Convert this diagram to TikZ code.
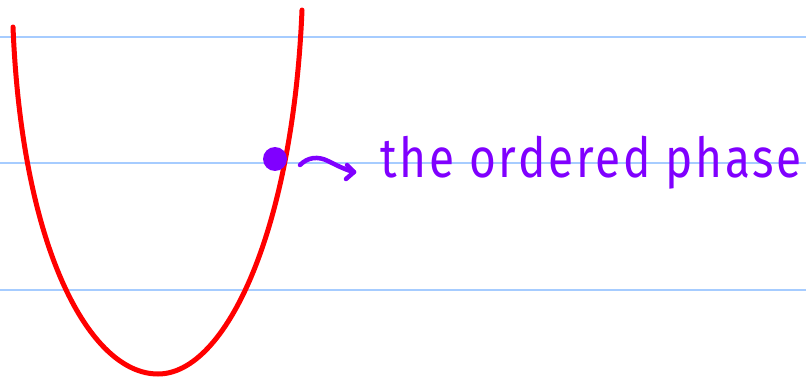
\documentclass[tikz,border=0pt]{standalone}
\usepackage{fontspec}
\setmainfont{Fira Sans}
\definecolor{ruled}{RGB}{166,204,255}
\definecolor{ink}{RGB}{128,0,255}
\definecolor{pen}{RGB}{255,0,0}
\tikzset{
  ruleline/.style={ruled, line width=1.6pt},
  curvepen/.style={pen, line width=5pt, line cap=round, line join=round},
  inkpen/.style={ink, line width=4.5pt, line cap=round, line join=round},
  inkdot/.style={circle, fill=ink, minimum size=24pt, inner sep=0pt},
  handtext/.style={text=ink, font=\fontsize{46}{50}\selectfont\addfontfeatures{LetterSpace=6}, inner sep=0pt}
}
\begin{document}
\begin{tikzpicture}[x=1pt,y=-1pt]
\useasboundingbox (0,0) rectangle (806,377);
\fill[white] (0,0) rectangle (806,377);
% ruled lines
\coordinate (r1a) at (0,37); \coordinate (r1b) at (806,37);
\coordinate (r2a) at (0,163); \coordinate (r2b) at (806,163);
\coordinate (r3a) at (0,290); \coordinate (r3b) at (806,290);
\draw[ruleline] (r1a) -- (r1b);
\draw[ruleline] (r2a) -- (r2b);
\draw[ruleline] (r3a) -- (r3b);
% potential curve
\coordinate (cl) at (13,27);
\coordinate (cb) at (158,374);
\coordinate (cr) at (302,10);
\draw[curvepen] (cl) .. controls (22,250) and (90,374) .. (cb)
                     .. controls (226,374) and (293,230) .. (cr);
% dot
\node[inkdot] (dot) at (275,159) {};
% squiggle arrow
\coordinate (s0) at (300,165);
\coordinate (tip) at (354,172);
\coordinate (h1) at (347,165);
\coordinate (h2) at (346,179);
\draw[inkpen] (s0) .. controls (308,157) and (318,156) .. (328,161) .. controls (338,166) and (346,170) .. (tip);
\draw[inkpen] (h1) -- (tip) -- (h2);
% label
\node[handtext, anchor=base west] (label) at (380,178) {\scalebox{1}[1.2]{the ordered phase}};
\end{tikzpicture}
\end{document}
